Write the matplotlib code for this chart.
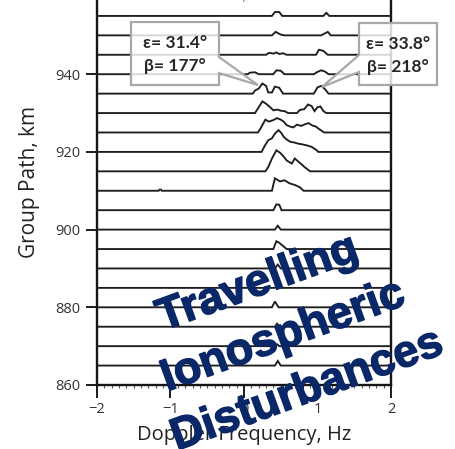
import matplotlib
matplotlib.use("Agg")
import matplotlib.pyplot as plt
from matplotlib.patches import Polygon
from matplotlib.ticker import MultipleLocator
import matplotlib.patheffects as pe

# ---- data: spectral features above each baseline (freq Hz, amplitude km) ----
group_paths = [955, 950, 945, 940, 935, 930, 925, 920, 915, 910,
               905, 900, 895, 890, 885, 880, 875, 870, 865, 860]

f955 = [0.38, 0.42, 0.48, 0.52, 1.08, 1.12, 1.16]
a955 = [0, 1.0, 1.0, 0, 0, 0.8, 0]
f950 = [0.38, 0.43, 0.50, 0.55, 1.05, 1.10, 1.14, 1.18]
a950 = [0, 0.9, 0.2, 0, 0, 0.5, 0.9, 0]
f945 = [0.30, 0.34, 0.40, 0.44, 0.48, 0.53, 0.58, 0.98, 1.02, 1.08, 1.14]
a945 = [0, 0.5, 0.3, 0.6, 0.2, 0.4, 0, 0, 1.3, 1.0, 0]
f940 = [0.05, 0.08, 0.15, 0.20, 0.40, 0.44, 0.50, 0.55, 0.95, 1.00, 1.05, 1.10, 1.15]
a940 = [0, 0.4, 0.5, 0, 0, 1.0, 0.9, 0, 0, 0.6, 1.0, 0.7, 0]
f935 = [0.12, 0.15, 0.20, 0.25, 0.30, 0.33, 0.38, 0.42, 0.48, 0.53, 0.95, 1.00, 1.05, 1.10, 1.15]
a935 = [0, 0.8, 1.3, 2.6, 2.0, 0.3, 0.3, 1.8, 1.5, 0, 0, 1.6, 2.0, 1.2, 0]
f930 = [0.15, 0.20, 0.25, 0.30, 0.35, 0.40, 0.45, 0.50, 0.55, 0.60,
        0.72, 0.76, 0.82, 0.87, 0.92, 0.96, 1.00, 1.04, 1.08, 1.12]
a930 = [0, 1.5, 3.0, 2.4, 1.6, 0.7, 0.9, 0.6, 0.5, 0,
        0, 0.8, 1.0, 2.2, 1.8, 0.5, 1.5, 1.7, 0.5, 0]
f925 = [0.19, 0.23, 0.29, 0.34, 0.40, 0.45, 0.50, 0.54, 0.58, 0.63,
        0.67, 0.72, 0.78, 0.84, 0.88, 0.93, 0.98, 1.02, 1.06, 1.09]
a925 = [0, 1.2, 3.3, 2.8, 3.2, 3.7, 3.3, 2.8, 1.9, 1.5,
        1.3, 2.0, 1.7, 2.2, 2.4, 1.8, 1.5, 0.9, 0.4, 0]
f920 = [0.24, 0.28, 0.33, 0.38, 0.42, 0.47, 0.51, 0.54, 0.58, 0.63,
        0.69, 0.74, 0.78, 0.85, 0.92, 0.99, 1.01]
a920 = [0, 1.5, 3.0, 3.5, 4.7, 5.6, 4.8, 3.9, 3.2, 2.6,
        2.4, 2.1, 2.0, 1.7, 1.3, 0.4, 0]
f915 = [0.29, 0.33, 0.38, 0.44, 0.49, 0.54, 0.58, 0.65, 0.69, 0.74, 0.80, 0.83, 0.90]
a915 = [0, 1.1, 3.3, 5.4, 4.8, 3.8, 2.8, 2.0, 3.3, 2.5, 1.5, 1.0, 0]
f910 = [-1.16, -1.15, -1.13, -1.12, 0.38, 0.42, 0.49, 0.55, 0.62, 0.69, 0.76, 0.81]
a910 = [0, 0.3, 0.3, 0, 0, 3.2, 2.4, 2.7, 1.9, 1.5, 0.9, 0]
f905 = [0.40, 0.44, 0.48, 0.51]
a905 = [0, 1.5, 1.4, 0]
f900 = [0.42, 0.46, 0.50]
a900 = [0, 1.0, 0]
f895 = [0.40, 0.44, 0.48, 0.53, 0.58]
a895 = [0, 2.0, 1.6, 0.8, 0]
f890 = [0.42, 0.46, 0.50]
a890 = [0, 1.0, 0]
f885 = [0.42, 0.46, 0.50]
a885 = [0, 0.8, 0]
f880 = [0.38, 0.42, 0.47]
a880 = [0, 1.5, 0]
f875 = [0.42, 0.45, 0.49]
a875 = [0, 0.8, 0]
f870 = [0.42, 0.45, 0.48]
a870 = [0, 0.5, 0]
f865 = [0.42, 0.46, 0.50]
a865 = [0, 1.2, 0]
f860 = []
a860 = []

feature_freqs = [f955, f950, f945, f940, f935, f930, f925, f920, f915, f910,
                 f905, f900, f895, f890, f885, f880, f875, f870, f865, f860]
feature_amps = [a955, a950, a945, a940, a935, a930, a925, a920, a915, a910,
                a905, a900, a895, a890, a885, a880, a875, a870, a865, a860]

x_ticks = [-2, -1, 0, 1, 2]
y_ticks = [860, 880, 900, 920, 940]

# callouts: (label lines, target freq, target group path)
callout_left_text = ["ε= 31.4°", "β= 177°"]
callout_right_text = ["ε= 33.8°", "β= 218°"]
callout_left_target = (0.19, 937.2)
callout_right_target = (1.06, 936.7)

# ---- figure ----
W, H = 456, 449
fig = plt.figure(figsize=(W / 100, H / 100), dpi=100)
ax = fig.add_axes([97 / W, 1 - 385 / H, 294 / W, 0.9085])
ax.set_xlim(-2, 2)
ax.set_ylim(860, 965)

line_col = "#1e1e1e"
for gp, ff, aa in zip(group_paths, feature_freqs, feature_amps):
    xs = [-2.0] + list(ff) + [2.0]
    ys = [gp] + [gp + a for a in aa] + [gp]
    ax.plot(xs, ys, color=line_col, lw=1.35, solid_joinstyle="miter", zorder=2)

for s in ["left", "right", "bottom"]:
    ax.spines[s].set_linewidth(1.7)
    ax.spines[s].set_color("#151515")
ax.spines["top"].set_visible(False)

ax.set_xticks(x_ticks)
ax.set_yticks(y_ticks)
ax.xaxis.set_minor_locator(MultipleLocator(0.1))
ax.tick_params(axis="x", which="major", direction="out", length=9, width=1.4,
               color="#1a1a1a", labelsize=10.5, labelcolor="#333333", pad=3)
ax.tick_params(axis="x", which="minor", direction="out", length=2, width=0.8,
               color="#555555")
ax.tick_params(axis="y", which="major", direction="out", length=8, width=1.4,
               color="#1a1a1a", labelsize=10.5, labelcolor="#333333", pad=4)
for lab in ax.get_xticklabels() + ax.get_yticklabels():
    lab.set_family("Open Sans")

ax.set_xlabel("Doppler Frequency, Hz", fontsize=14.5, color="#222222",
              family="Open Sans", labelpad=6)
ax.set_ylabel("Group Path, km", fontsize=15, color="#222222",
              family="Open Sans")
ax.yaxis.set_label_coords(-0.195, (385 - 182) / (0.9085 * H))

# partially clipped top label
fig.text(205 / W, 1 + 3 / H, "Universal Time, hrs", ha="center", va="center",
         fontsize=11, color="#777777", family="Open Sans")


# ---- callouts ----
def px2data(px, py):
    return ((px - 97) / 73.5 - 2, 860 + (385 - py) / 3.885)


def callout(box_px, wedge_y_px, side, target, lines):
    x0, y0, x1, y1 = box_px
    tx, ty = target
    (dx0, dy0) = px2data(x0, y0)
    (dx1, dy1) = px2data(x1, y1)
    _, wy0 = px2data(0, wedge_y_px[0])
    _, wy1 = px2data(0, wedge_y_px[1])
    if side == "right":
        verts = [(dx0, dy0), (dx1, dy0), (dx1, wy0), (tx, ty), (dx1, wy1),
                 (dx1, dy1), (dx0, dy1)]
    else:
        verts = [(dx0, dy0), (dx1, dy0), (dx1, dy1), (dx0, dy1), (dx0, wy1),
                 (tx, ty), (dx0, wy0)]
    poly = Polygon(verts, closed=True, facecolor=(1, 1, 1, 0.82),
                   edgecolor="#a8a8a8", lw=1.6, clip_on=False, zorder=5)
    ax.add_patch(poly)
    cx = (dx0 + dx1) / 2
    ys = [px2data(0, (y0 + 21))[1], px2data(0, (y0 + 44))[1]]
    for txt, yy in zip(lines, ys):
        ax.text(cx, yy, txt, ha="center", va="center", fontsize=12.5,
                fontweight="bold", color="#262626", family="Lato",
                zorder=6, clip_on=False)


callout((131, 22, 219, 85), (57, 73), "right", callout_left_target, callout_left_text)
callout((359, 23, 437, 85), (55, 72), "left", callout_right_target, callout_right_text)

# ---- overlay title ----
navy = "#0a2868"
for txt, (px, py) in zip(["Travelling", "Ionospheric", "Disturbances"],
                         [(258, 284), (283, 337), (307, 391)]):
    t = fig.text(px / W, 1 - py / H, txt, ha="center", va="center", rotation=20,
                 rotation_mode="anchor", fontsize=32.5, fontweight="bold",
                 color=navy, family="Liberation Sans", zorder=10)
    t.set_path_effects([pe.Stroke(linewidth=1.0, foreground=navy), pe.Normal()])

fig.savefig("out.png", dpi=100)
